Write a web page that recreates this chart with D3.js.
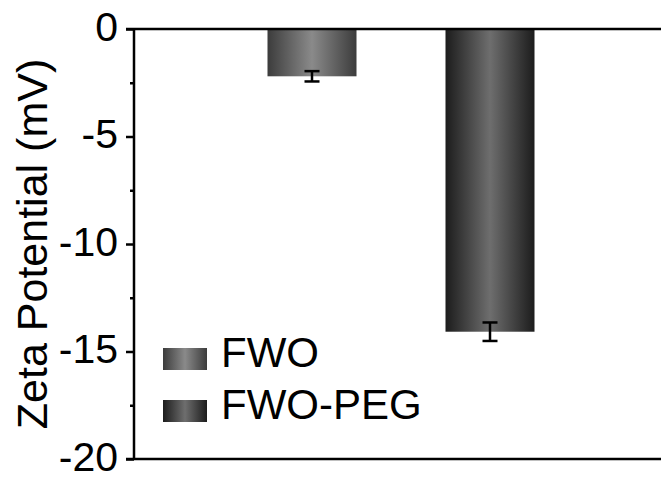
<!DOCTYPE html>
<html><head><meta charset="utf-8">
<script src="https://cdn.jsdelivr.net/npm/d3@7"></script>
<style>html,body{margin:0;padding:0;background:#fff;}svg{display:block;}</style>
</head><body>
<svg id="chart" width="661" height="480"></svg>
<script>
const categories = ["FWO", "FWO-PEG"];
const values = [-2.2, -14.08];
const errors = [0.24, 0.43];
const yTicks = [0, -5, -10, -15, -20];
const yMinorTicks = [-2.5, -7.5, -12.5, -17.5];
const yTitle = "Zeta Potential (mV)";
const gradStops = [["#3c3c3c", "#8a8a8a"], ["#1c1c1c", "#6e6e6e"]];

const svg = d3.select("#chart");
const font = "'Liberation Sans', Arial, sans-serif";

const x = d3.scaleLinear().domain([0, 3]).range([134, 668]);
const y = d3.scaleLinear().domain([-20, 0]).range([459, 29]);
const barW = x(0.5) - x(0);

const defs = svg.append("defs");
categories.forEach((c, i) => {
  const g = defs.append("linearGradient").attr("id", "g" + i)
    .attr("x1", "0%").attr("x2", "100%").attr("y1", "0%").attr("y2", "0%");
  g.append("stop").attr("offset", "0%").attr("stop-color", gradStops[i][0]);
  g.append("stop").attr("offset", "50%").attr("stop-color", gradStops[i][1]);
  g.append("stop").attr("offset", "100%").attr("stop-color", gradStops[i][0]);
});

// bars
svg.append("g").selectAll("rect").data(values).join("rect")
  .attr("x", (d, i) => x(i + 1) - barW / 2)
  .attr("y", y(0))
  .attr("width", barW)
  .attr("height", d => y(d) - y(0))
  .attr("fill", (d, i) => `url(#g${i})`);

// error bars
const eg = svg.append("g").attr("stroke", "#000").attr("stroke-width", 2.5);
values.forEach((v, i) => {
  const cx = x(i + 1);
  eg.append("line").attr("x1", cx).attr("x2", cx).attr("y1", y(v + errors[i])).attr("y2", y(v - errors[i]));
  eg.append("line").attr("x1", cx - 7.5).attr("x2", cx + 7.5).attr("y1", y(v + errors[i])).attr("y2", y(v + errors[i]));
  eg.append("line").attr("x1", cx - 7.5).attr("x2", cx + 7.5).attr("y1", y(v - errors[i])).attr("y2", y(v - errors[i]));
});

// y axis
const yAxis = d3.axisLeft(y).tickValues(yTicks).tickSize(8).tickPadding(8).tickFormat(d => String(d));
const ga = svg.append("g").attr("transform", `translate(${x(0)},0)`).call(yAxis);
ga.select(".domain").attr("stroke-width", 2.5).attr("d", `M0,${y(0)}V${y(-20)}`);
ga.selectAll(".tick line").attr("stroke-width", 2.5);
ga.selectAll(".tick text").attr("font-family", font).attr("font-size", 41).attr("fill", "#000").attr("dy", "0.28em");
const gm = svg.append("g").attr("transform", `translate(${x(0)},0)`)
  .call(d3.axisLeft(y).tickValues(yMinorTicks).tickSize(4).tickFormat(""));
gm.select(".domain").remove();
gm.selectAll(".tick line").attr("stroke-width", 2.5);

// top & bottom frame lines
svg.append("line").attr("x1", x(0) - 8).attr("x2", 661).attr("y1", y(0)).attr("y2", y(0))
  .attr("stroke", "#000").attr("stroke-width", 2.5);
svg.append("line").attr("x1", x(0) - 8).attr("x2", 661).attr("y1", y(-20)).attr("y2", y(-20))
  .attr("stroke", "#000").attr("stroke-width", 2.5);

// y title
svg.append("text")
  .attr("transform", `translate(47,${(y(0) + y(-20)) / 2}) rotate(-90)`)
  .attr("text-anchor", "middle")
  .attr("font-family", font).attr("font-size", 43).attr("fill", "#000")
  .text(yTitle);

// legend
const leg = svg.append("g");
categories.forEach((c, i) => {
  const ly = 348 + i * 52;
  leg.append("rect").attr("x", 163).attr("y", ly).attr("width", 44).attr("height", 22)
    .attr("fill", `url(#g${i})`);
  leg.append("text").attr("x", 221).attr("y", ly + 19)
    .attr("font-family", font).attr("font-size", 42).attr("fill", "#000").text(c);
});
</script>
</body></html>
